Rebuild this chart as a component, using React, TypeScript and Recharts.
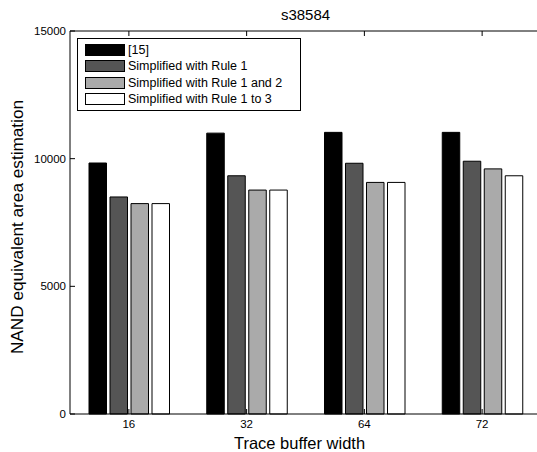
import React from "react";
import { BarChart, Bar, XAxis, YAxis, Label } from "recharts";

// values
const widths = ["16", "32", "64", "72"];
const ref15 = [9830, 11000, 11030, 11030];
const rule1 = [8500, 9330, 9820, 9900];
const rule12 = [8240, 8770, 9070, 9600];
const rule123 = [8240, 8770, 9070, 9330];
const yTicks = [0, 5000, 10000, 15000];

const series = [
  { key: "ref15", name: "[15]", fill: "#000000" },
  { key: "rule1", name: "Simplified with Rule 1", fill: "#555555" },
  { key: "rule12", name: "Simplified with Rule 1 and 2", fill: "#aaaaaa" },
  { key: "rule123", name: "Simplified with Rule 1 to 3", fill: "#ffffff" },
];

const data = widths.map((w, i) => ({
  w,
  ref15: ref15[i],
  rule1: rule1[i],
  rule12: rule12[i],
  rule123: rule123[i],
}));

const FONT = "'Liberation Sans', Arial, sans-serif";

// matlab style ticks: small marks pointing into the plot
function LeftTick(p: any) {
  return (
    <g>
      <line x1={p.x + 4} x2={p.x + 9} y1={p.y} y2={p.y} stroke="#000" />
      <text x={p.x} y={p.y} dy="0.36em" textAnchor="end" fontSize={11.5} fontFamily={FONT} fill="#000">
        {p.payload.value}
      </text>
    </g>
  );
}

function RightTick(p: any) {
  return <line x1={p.x - 5} x2={p.x} y1={p.y} y2={p.y} stroke="#000" />;
}

function BottomTick(p: any) {
  return (
    <g>
      <line x1={p.x} x2={p.x} y1={p.y - 6} y2={p.y - 11} stroke="#000" />
      <text x={p.x} y={p.y} dy="0.71em" textAnchor="middle" fontSize={11.5} fontFamily={FONT} fill="#000">
        {p.payload.value}
      </text>
    </g>
  );
}

function TopTick(p: any) {
  return <line x1={p.x} x2={p.x} y1={p.y} y2={p.y + 5} stroke="#000" />;
}

function ChartLegend() {
  return (
    <div
      style={{
        position: "absolute",
        left: 77,
        top: 38,
        width: 215,
        border: "1px solid #000",
        background: "#fff",
        padding: "3px 0 3px 7px",
        fontFamily: FONT,
        fontSize: 12.5,
        lineHeight: "16.3px",
      }}
    >
      {series.map((s) => (
        <div key={s.key} style={{ display: "flex", alignItems: "center" }}>
          <span
            style={{
              display: "inline-block",
              width: 38,
              height: 10,
              background: s.fill,
              border: "1px solid #000",
              marginRight: 3,
            }}
          />
          {s.name}
        </div>
      ))}
    </div>
  );
}

export default function App() {
  return (
    <div
      style={{
        position: "absolute",
        left: 0,
        top: 0,
        width: 537,
        height: 452,
        overflow: "hidden",
        background: "#fff",
      }}
    >
      <BarChart
        width={545}
        height={452}
        data={data}
        margin={{ top: 0, right: 0, left: 0, bottom: 0 }}
        barSize={17.5}
        barGap={3.5}
      >
        <XAxis
          dataKey="w"
          height={38}
          axisLine={{ stroke: "#000" }}
          tickLine={false}
          tickSize={0}
          tickMargin={6}
          tick={<BottomTick />}
        >
          <Label
            content={(p: any) => (
              <text
                x={p.viewBox.x + p.viewBox.width / 2 - 6}
                y={p.viewBox.y + 35}
                textAnchor="middle"
                fontSize={16.5}
                fontFamily={FONT}
                fill="#000"
              >
                Trace buffer width
              </text>
            )}
          />
        </XAxis>
        <XAxis
          xAxisId="top"
          dataKey="w"
          orientation="top"
          height={31}
          axisLine={{ stroke: "#000" }}
          tickLine={false}
          tickSize={0}
          tickMargin={0}
          tick={<TopTick />}
        >
          <Label
            content={(p: any) => (
              <text
                x={p.viewBox.x + p.viewBox.width / 2}
                y={20}
                textAnchor="middle"
                fontSize={15}
                fontFamily={FONT}
                fill="#000"
              >
                s38584
              </text>
            )}
          />
        </XAxis>
        <YAxis
          width={70}
          domain={[0, 15000]}
          ticks={yTicks}
          axisLine={{ stroke: "#000" }}
          tickLine={false}
          tickSize={0}
          tickMargin={4}
          tick={<LeftTick />}
        >
          <Label
            content={() => {
              const cx = 23;
              const cy = 227;
              return (
                <text
                  x={cx}
                  y={cy}
                  transform={`rotate(-90 ${cx} ${cy})`}
                  textAnchor="middle"
                  fontSize={17.2}
                  fontFamily={FONT}
                  fill="#000"
                >
                  NAND equivalent area estimation
                </text>
              );
            }}
          />
        </YAxis>
        <YAxis
          yAxisId="right"
          orientation="right"
          width={4}
          domain={[0, 15000]}
          ticks={yTicks}
          axisLine={false}
          tickLine={false}
          tickSize={0}
          tickMargin={0}
          tick={<RightTick />}
        />
        {series.map((s) => (
          <Bar
            key={s.key}
            dataKey={s.key}
            name={s.name}
            fill={s.fill}
            stroke="#000"
            strokeWidth={1}
            isAnimationActive={false}
          />
        ))}
      </BarChart>
      <ChartLegend />
    </div>
  );
}
